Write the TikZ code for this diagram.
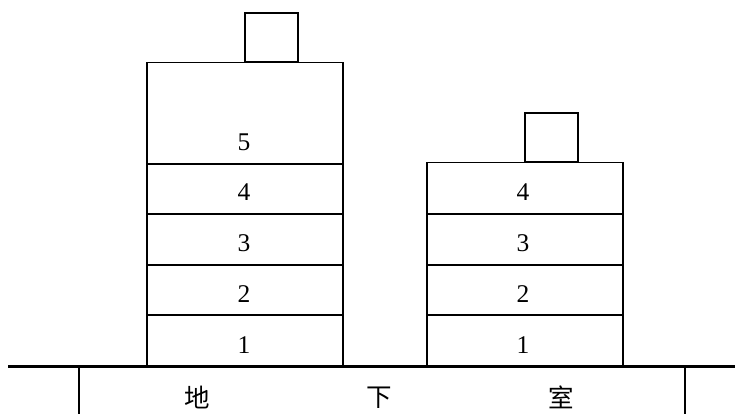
\documentclass[tikz,border=0pt]{standalone}
\usepackage{fontspec}
\setmainfont{Liberation Serif}
\newfontfamily\cjk{Noto Sans CJK SC}
\begin{document}
\begin{tikzpicture}[x=1pt,y=-1pt,
  floorbox/.style={draw,line width=1.9pt,rectangle,inner sep=0pt,minimum width=196pt},
  towerbox/.style={draw,line width=1.9pt,rectangle,inner sep=0pt,minimum width=53pt,minimum height=49pt},
  num/.style={inner sep=0pt,font=\fontsize{25.5}{26}\selectfont},
  cjklabel/.style={inner sep=0pt,font=\cjk\fontsize{25.5}{26}\selectfont},
  groundline/.style={line width=3pt},
  wall/.style={line width=2pt}]
\useasboundingbox (0,0) rectangle (735,414);
% left building
\node[floorbox,minimum height=50.5pt] (L1) at (245,340.5) {};
\node[floorbox,minimum height=50.5pt] (L2) at (245,290) {};
\node[floorbox,minimum height=50.5pt] (L3) at (245,239.5) {};
\node[floorbox,minimum height=50.5pt] (L4) at (245,189) {};
\node[floorbox,minimum height=101.25pt] (L5) at (245,113.125) {};
\node[towerbox] (LT) at (271.5,37.5) {};
\node[num] (n1L) at (244,345) {1};
\node[num] (n2L) at (244,294) {2};
\node[num] (n3L) at (244,243) {3};
\node[num] (n4L) at (244,192) {4};
\node[num] (n5L) at (244,142) {5};
% right building
\node[floorbox,minimum height=50.5pt] (R1) at (525,340.5) {};
\node[floorbox,minimum height=50.5pt] (R2) at (525,290) {};
\node[floorbox,minimum height=50.5pt] (R3) at (525,239.5) {};
\node[floorbox,minimum height=51.75pt] (R4) at (525,188.375) {};
\node[towerbox] (RT) at (551.5,137.5) {};
\node[num] (n1R) at (523,345) {1};
\node[num] (n2R) at (523,294) {2};
\node[num] (n3R) at (523,243) {3};
\node[num] (n4R) at (523,192) {4};
% ground and basement
\coordinate (gl) at (8,366.5);
\coordinate (gr) at (735,366.5);
\draw[groundline] (gl) -- (gr);
\coordinate (wlt) at (79,366.5);
\coordinate (wlb) at (79,414);
\coordinate (wrt) at (685,366.5);
\coordinate (wrb) at (685,414);
\draw[wall] (wlt) -- (wlb);
\draw[wall] (wrt) -- (wrb);
\node[cjklabel] (b1) at (197,397.5) {地};
\node[cjklabel] (b2) at (379,397.5) {下};
\node[cjklabel] (b3) at (561,397.5) {室};
\end{tikzpicture}
\end{document}
